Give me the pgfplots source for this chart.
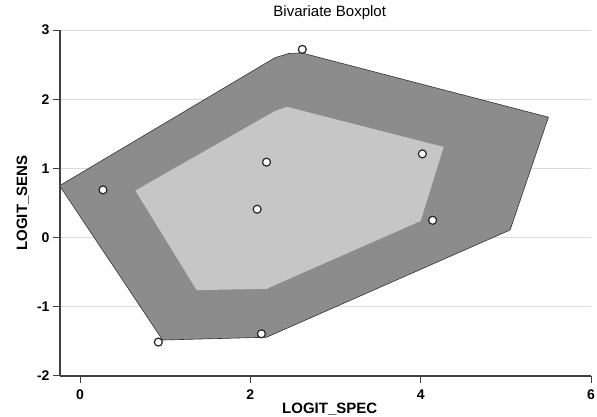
\documentclass[border=0pt]{standalone}
\usepackage{pgfplots}
\pgfplotsset{compat=1.18}
\usepackage{fontspec}
\setmainfont{Liberation Sans}
\definecolor{darkfill}{HTML}{8C8C8C}
\definecolor{lightfill}{HTML}{C6C6C6}
\definecolor{gridc}{HTML}{DADADA}
\begin{document}
\begin{tikzpicture}
\begin{axis}[
 name=ax,
 scale only axis, width=531pt, height=346pt,
 xmin=-0.235, xmax=6, ymin=-2, ymax=3,
 axis lines=left, axis line style={-, line width=1.2pt, color=black!75},
 xtick={0,2,4,6}, ytick={-2,-1,0,1,2,3},
 tick align=outside, major tick length=7pt, tick style={line width=1pt, black!75},
 ymajorgrids, grid style={gridc, line width=1pt},
 /pgf/number format/assume math mode=true,
 ticklabel style={font=\fontsize{14}{16}\selectfont\bfseries},
 xticklabel style={yshift=-3pt},
 title={Bivariate Boxplot},
 title style={font=\fontsize{15}{17}\selectfont, at={(axis description cs:0.508,1.0231)}, anchor=base},
 xlabel={LOGIT\_SPEC}, ylabel={LOGIT\_SENS},
 label style={font=\fontsize{15}{17}\selectfont\bfseries},
 xlabel style={at={(axis description cs:0.508,-0.1098)}, anchor=base},
 ylabel style={at={(axis description cs:-0.0621,0.5)}, anchor=base},
 clip=true,
]
% outer hull
\addplot[fill=darkfill, draw=black!80, line width=0.6pt] coordinates {
 (-0.24,0.75) (2.29,2.60) (2.45,2.66) (2.60,2.67) (5.50,1.74) (5.05,0.11) (2.19,-1.44) (0.97,-1.48)
} -- cycle;
% inner hull
\addplot[fill=lightfill, draw=none] coordinates {
 (0.65,0.68) (2.29,1.83) (2.43,1.89) (4.27,1.31) (4.00,0.24) (2.19,-0.74) (1.37,-0.76)
} -- cycle;
% points
\addplot[only marks, mark=*, mark size=4pt, mark options={fill=white, draw=black!85, line width=1.2pt}] coordinates {
 (0.27,0.69) (2.19,1.09) (2.08,0.41) (2.61,2.72) (4.02,1.21) (4.14,0.25) (0.92,-1.51) (2.13,-1.39)
};
\end{axis}
\pgfresetboundingbox
\path[use as bounding box] (-60pt,-41pt) rectangle (537pt,376pt);
\end{tikzpicture}
\end{document}
